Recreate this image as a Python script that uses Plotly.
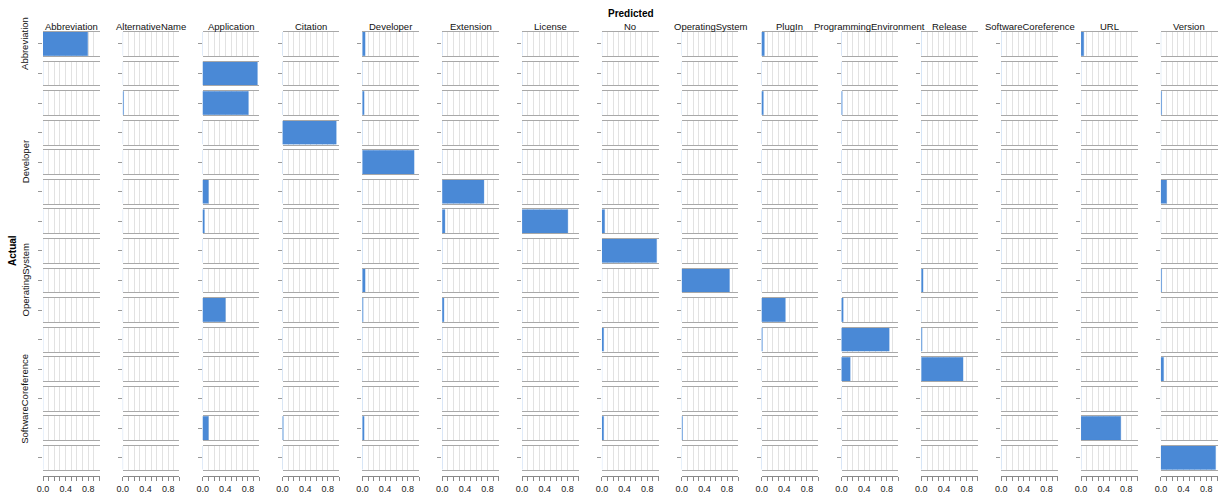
import plotly.graph_objects as go

categories = ["Abbreviation", "AlternativeName", "Application", "Citation", "Developer",
              "Extension", "License", "No", "OperatingSystem", "PlugIn",
              "ProgrammingEnvironment", "Release", "SoftwareCoreference", "URL", "Version"]

# rows = actual class, values in order of predicted class (categories)
abbreviation_row        = [0.79, 0, 0, 0, 0.05, 0, 0, 0, 0, 0.05, 0, 0, 0, 0.05, 0]
alternativename_row     = [0, 0, 0.98, 0, 0, 0, 0, 0, 0, 0, 0, 0, 0, 0, 0]
application_row         = [0, 0.015, 0.81, 0, 0.04, 0.005, 0.004, 0.005, 0, 0.03, 0.01, 0, 0.004, 0, 0.01]
citation_row            = [0, 0, 0, 0.96, 0, 0, 0, 0, 0, 0.005, 0, 0, 0, 0, 0]
developer_row           = [0.005, 0, 0, 0, 0.91, 0, 0, 0.005, 0, 0.005, 0, 0, 0, 0, 0]
extension_row           = [0, 0, 0.10, 0, 0, 0.74, 0, 0, 0, 0, 0, 0, 0, 0, 0.11]
license_row             = [0, 0, 0.04, 0, 0, 0.05, 0.81, 0.06, 0, 0, 0, 0, 0, 0, 0]
no_row                  = [0, 0, 0, 0, 0, 0, 0, 0.98, 0, 0, 0, 0, 0, 0, 0]
operatingsystem_row     = [0, 0, 0, 0, 0.05, 0, 0, 0, 0.84, 0, 0, 0.03, 0, 0, 0.02]
plugin_row              = [0, 0, 0.40, 0, 0.02, 0.04, 0, 0, 0, 0.42, 0.04, 0, 0.005, 0.005, 0]
programmingenv_row      = [0, 0, 0.005, 0, 0, 0, 0, 0.03, 0, 0.01, 0.85, 0.01, 0, 0, 0]
release_row             = [0, 0, 0, 0, 0, 0, 0, 0, 0, 0, 0.16, 0.74, 0, 0, 0.05]
softwarecoreference_row = [0, 0, 0, 0, 0, 0, 0, 0, 0, 0, 0, 0, 0, 0, 0]
url_row                 = [0, 0, 0.10, 0.01, 0.04, 0, 0, 0.03, 0.01, 0, 0, 0, 0, 0.70, 0]
version_row             = [0, 0, 0, 0.005, 0, 0, 0, 0, 0, 0, 0, 0, 0, 0, 0.97]

x_tick_values = [0.0, 0.1, 0.2, 0.3, 0.4, 0.5, 0.6, 0.7, 0.8, 0.9, 1.0]
x_tick_labels = ["0.0", "", "", "", "0.4", "", "", "", "0.8", "", ""]

rows = [abbreviation_row, alternativename_row, application_row, citation_row, developer_row,
        extension_row, license_row, no_row, operatingsystem_row, plugin_row,
        programmingenv_row, release_row, softwarecoreference_row, url_row, version_row]

W, H = 1218, 494
ML, MR, MT, MB = 43, 0, 32, 16
PW = W - ML - MR
PH = H - MT - MB
CELL_W = 56.6
COL_PITCH = (PW - CELL_W - 0.5) / 14
ROW_PITCH = 29.7
CELL_H = 24.0
FONT = "Liberation Sans, Arial, Helvetica, sans-serif"
BAR_COLOR = "#4a89d6"

def clamp(v):
    return max(0.0, min(1.0, v))

def px_x(px):
    return (px - ML) / PW

def px_y(py):
    return (H - MB - py) / PH

n = len(categories)
fig = go.Figure()
layout = {}

for r in range(n):
    for c in range(n):
        k = r * n + c + 1
        xa = "x" if k == 1 else f"x{k}"
        ya = "y" if k == 1 else f"y{k}"
        fig.add_trace(go.Bar(
            x=[rows[r][c]], y=[categories[r]], orientation="h",
            xaxis=xa, yaxis=ya, width=1.0,
            marker=dict(color=BAR_COLOR, line=dict(color="rgba(74,137,214,0.55)", width=0.6)),
            showlegend=False, hovertemplate=f"Actual: {categories[r]}<br>Predicted: {categories[c]}<br>%{{x}}<extra></extra>",
        ))
        x0 = ML + c * COL_PITCH
        y0 = MT + r * ROW_PITCH
        layout["xaxis" if k == 1 else f"xaxis{k}"] = dict(
            domain=[clamp(px_x(x0)), clamp(px_x(x0 + CELL_W))], anchor=ya, range=[0, 1],
            tickvals=x_tick_values, showticklabels=False, ticks="",
            showgrid=True, gridcolor="#e2e2e2", gridwidth=1, zeroline=False,
            showline=True, linecolor="#a8a8a8", linewidth=1, mirror=True, fixedrange=True,
        )
        layout["yaxis" if k == 1 else f"yaxis{k}"] = dict(
            domain=[clamp(px_y(y0 + CELL_H)), clamp(px_y(y0))], anchor=xa, type="category",
            range=[-0.5, 0.5], showticklabels=False, ticks="outside", ticklen=4,
            tickcolor="#999999", tickwidth=1, showgrid=False, zeroline=False,
            showline=False, fixedrange=True,
        )

# bottom labelled axes (offset below the last row), overlaying the last row's x axes
base = n * n
for c in range(n):
    k = base + c + 1
    bottom_k = (n - 1) * n + c + 1
    fig.add_trace(go.Scatter(
        x=[0], y=[categories[n - 1]], xaxis=f"x{k}", yaxis=f"y{bottom_k}",
        mode="markers", marker=dict(opacity=0), showlegend=False, hoverinfo="skip",
    ))
    x0 = ML + c * COL_PITCH
    layout[f"xaxis{k}"] = dict(
        overlaying=f"x{bottom_k}",
        domain=[clamp(px_x(x0)), clamp(px_x(x0 + CELL_W))], anchor="free", position=0,
        range=[0, 1], tickvals=x_tick_values, ticktext=x_tick_labels,
        ticks="outside", ticklen=4, tickcolor="#888888", tickwidth=1,
        showline=True, linecolor="#888888", linewidth=1, showgrid=False, zeroline=False,
        tickfont=dict(size=9, color="#222222", family=FONT), fixedrange=True,
    )

annotations = []
for c, name in enumerate(categories):
    x0 = ML + c * COL_PITCH
    annotations.append(dict(
        text=name, x=px_x(x0 + CELL_W / 2), y=px_y(26), xref="paper", yref="paper",
        showarrow=False, xanchor="center", yanchor="middle",
        font=dict(size=9.5, color="#111111", family=FONT),
    ))
for r in range(0, n, 4):
    y0 = MT + r * ROW_PITCH
    annotations.append(dict(
        text=categories[r], x=px_x(25), y=px_y(y0 + CELL_H / 2), xref="paper", yref="paper",
        showarrow=False, xanchor="center", yanchor="middle", textangle=-90,
        font=dict(size=9.5, color="#111111", family=FONT),
    ))
annotations.append(dict(
    text="<b>Predicted</b>", x=px_x(ML + PW / 2), y=px_y(13), xref="paper", yref="paper",
    showarrow=False, xanchor="center", yanchor="middle",
    font=dict(size=10, color="#000000", family=FONT),
))
annotations.append(dict(
    text="<b>Actual</b>", x=px_x(13), y=px_y(MT + (14 * ROW_PITCH + CELL_H) / 2), xref="paper", yref="paper",
    showarrow=False, xanchor="center", yanchor="middle", textangle=-90,
    font=dict(size=10, color="#000000", family=FONT),
))

fig.update_layout(
    width=W, height=H,
    margin=dict(l=ML, r=MR, t=MT, b=MB, pad=0),
    paper_bgcolor="white", plot_bgcolor="rgba(0,0,0,0)",
    bargap=0, annotations=annotations,
    font=dict(family=FONT),
    **layout,
)

fig.write_html(
    "out.html",
    config={"displayModeBar": False},
    post_script="document.body.style.margin='0px';document.body.style.overflow='hidden';",
)
